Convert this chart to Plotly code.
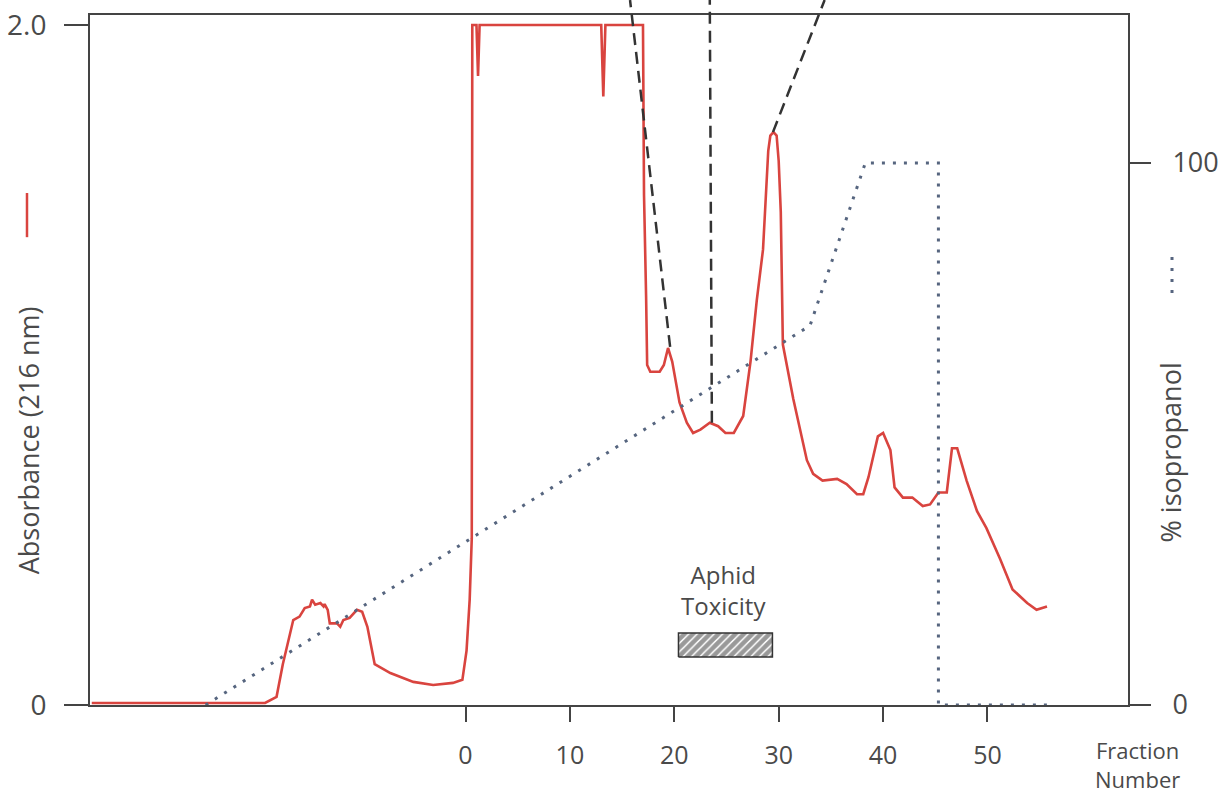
import plotly.graph_objects as go

# ---------------- data ----------------
# Absorbance trace (216 nm) vs fraction number
fraction = [-35.8, -19.2, -18.1, -17.5, -16.5, -15.9, -15.4, -14.9, -14.7, -14.4,
            -13.9, -13.6, -13.5, -13.2, -13.0, -12.3, -12.0, -11.7, -11.1, -10.4,
            -9.9, -9.4, -8.7, -7.2, -5.0, -3.1, -1.2, -0.3, 0.1, 0.4,
            0.6, 0.65, 1.05, 1.2, 1.35, 13.0, 13.2, 13.4, 17.0, 17.1,
            17.3, 17.4, 17.7, 18.6, 19.0, 19.4, 19.8, 20.5, 21.2, 21.8,
            22.5, 23.4, 24.2, 24.9, 25.7, 26.6, 27.3, 27.9, 28.5, 28.8,
            29.0, 29.2, 29.5, 29.8, 30.0, 30.2, 30.3, 30.4, 31.4, 32.7,
            33.3, 34.2, 35.6, 36.5, 37.5, 38.1, 38.6, 39.5, 40.0, 40.7,
            41.1, 41.9, 42.8, 43.8, 44.5, 45.3, 46.1, 46.6, 47.1, 48.0,
            49.0, 49.9, 51.2, 52.4, 53.8, 54.7, 55.7]
absorbance = [0.006, 0.006, 0.024, 0.12, 0.25, 0.26, 0.285, 0.29, 0.31, 0.295,
              0.30, 0.29, 0.297, 0.28, 0.24, 0.24, 0.23, 0.25, 0.256, 0.28,
              0.274, 0.23, 0.12, 0.094, 0.068, 0.059, 0.065, 0.074, 0.16, 0.31,
              0.49, 2.0, 2.0, 1.85, 2.0, 2.0, 1.79, 2.0, 2.0, 1.5,
              1.2, 1.0, 0.98, 0.98, 1.0, 1.05, 1.01, 0.89, 0.83, 0.80,
              0.81, 0.83, 0.82, 0.80, 0.80, 0.85, 1.01, 1.19, 1.34, 1.5,
              1.63, 1.675, 1.685, 1.675, 1.6, 1.45, 1.3, 1.06, 0.90, 0.72,
              0.68, 0.66, 0.665, 0.65, 0.62, 0.62, 0.67, 0.79, 0.80, 0.75,
              0.64, 0.61, 0.61, 0.585, 0.59, 0.625, 0.625, 0.755, 0.755, 0.66,
              0.57, 0.52, 0.43, 0.34, 0.30, 0.28, 0.29]

# Isopropanol gradient (%)
grad_fraction = [-24.9, 33.0, 38.3, 45.3, 45.3, 56.3]
grad_percent = [0, 70, 100, 100, 0, 0]

# Leader (dashed) lines: lower end on the trace, upper end off the top of the picture
leader_bottom_x = [19.6, 23.6, 29.45]
leader_bottom_y = [1.053, 0.83, 1.685]
leader_top_x = [15.76, 23.4, 34.4]
leader_top_y = 2.0735

# Aphid toxicity bar and its label
tox_start, tox_end = 20.4, 29.4
tox_low, tox_high = 0.141, 0.212
tox_label = "Aphid<br>Toxicity"
tox_label_x, tox_label_y = 24.75, 0.338

# Axes
x_tickvals = [0, 10, 20, 30, 40, 50]
y_tickvals = [0, 2.0]
y_ticktext = ["0", "2.0"]
y2_tickvals = [0, 100]
y2_ticktext = ["0", "100"]
X_RANGE = [-35.97, 63.46]
Y_TOP = 2.0294
Y2_TOP = 127.3

# ---------------- style ----------------
RED = "#d9443f"
DOT = "#56657f"
AX = "#444444"
TXT = "#4a4a4a"
FONT = "Open Sans"

fig = go.Figure()

fig.add_trace(go.Scatter(
    x=grad_fraction, y=grad_percent, yaxis="y2", mode="lines",
    line=dict(color=DOT, width=3, dash="3px,8px"),
    hoverinfo="skip", showlegend=False))

fig.add_trace(go.Scatter(
    x=fraction, y=absorbance, mode="lines",
    line=dict(color=RED, width=2.6),
    showlegend=False))

fig.add_trace(go.Scatter(
    x=[tox_start, tox_end, tox_end, tox_start, tox_start],
    y=[tox_low, tox_low, tox_high, tox_high, tox_low],
    mode="lines", fill="toself", fillcolor="white",
    fillpattern=dict(shape="/", fgcolor="#333333", bgcolor="white",
                     size=6, solidity=0.75),
    line=dict(color="#333333", width=1.5),
    hoverinfo="skip", showlegend=False))

shapes = []
for bx, by, tx in zip(leader_bottom_x, leader_bottom_y, leader_top_x):
    shapes.append(dict(type="line", xref="x", yref="paper",
                       x0=bx, y0=by / Y_TOP, x1=tx, y1=leader_top_y / Y_TOP,
                       line=dict(color="#333333", width=2.5, dash="12px,7px")))

# line-style keys beside the axis titles
shapes.append(dict(type="line", xref="paper", yref="paper",
                   x0=-0.0607, x1=-0.0607, y0=0.678, y1=0.742,
                   line=dict(color=RED, width=2.5)))
shapes.append(dict(type="line", xref="paper", yref="paper",
                   x0=1.0424, x1=1.0424, y0=0.597, y1=0.659,
                   line=dict(color=DOT, width=3, dash="3px,8px")))

annotations = [
    dict(text=tox_label, x=tox_label_x, y=tox_label_y, xref="x", yref="y",
         xanchor="center", yanchor="middle", align="center", showarrow=False,
         font=dict(family=FONT, size=24, color=TXT)),
    dict(text="Fraction<br>Number", x=1.0087, y=-0.0865, xref="paper", yref="paper",
         xanchor="center", yanchor="middle", align="center", showarrow=False,
         font=dict(family=FONT, size=22, color=TXT)),
    dict(text="Absorbance (216 nm)", x=-0.0592, y=0.383, xref="paper", yref="paper",
         xanchor="center", yanchor="middle", textangle=-90, showarrow=False,
         font=dict(family=FONT, size=27, color=TXT)),
    dict(text="% isopropanol", x=1.0405, y=0.366, xref="paper", yref="paper",
         xanchor="center", yanchor="middle", textangle=-90, showarrow=False,
         font=dict(family=FONT, size=27, color=TXT)),
]

fig.update_layout(
    width=1219, height=796,
    margin=dict(l=90, r=91, t=15, b=91),
    paper_bgcolor="white", plot_bgcolor="white",
    font=dict(family=FONT, color=TXT),
    hovermode=False,
    shapes=shapes, annotations=annotations,
    xaxis=dict(range=X_RANGE, tickvals=x_tickvals, ticks="outside", ticklen=15,
               tickwidth=2, tickcolor=AX, showline=True, linecolor=AX, linewidth=2,
               mirror=True, showgrid=False, zeroline=False, automargin=False,
               tickfont=dict(family=FONT, size=25, color=TXT), ticklabelstandoff=12),
    yaxis=dict(range=[0, Y_TOP], tickvals=y_tickvals, ticktext=y_ticktext,
               ticks="outside", ticklen=24, tickwidth=2, tickcolor=AX,
               showline=True, linecolor=AX, linewidth=2, mirror=True,
               showgrid=False, zeroline=False, automargin=False,
               tickfont=dict(family=FONT, size=28, color=TXT), ticklabelstandoff=12),
    yaxis2=dict(range=[0, Y2_TOP], overlaying="y", side="right",
                tickvals=y2_tickvals, ticktext=y2_ticktext,
                ticks="outside", ticklen=22, tickwidth=2, tickcolor=AX,
                showline=False, showgrid=False, zeroline=False, automargin=False,
                tickfont=dict(family=FONT, size=27, color=TXT), ticklabelstandoff=16),
)

# remove the page's default 8 px body margin so the 1219x796 figure fills the window
fig.write_html("out.html", config={"displayModeBar": False},
               post_script="document.body.style.margin='0';")
